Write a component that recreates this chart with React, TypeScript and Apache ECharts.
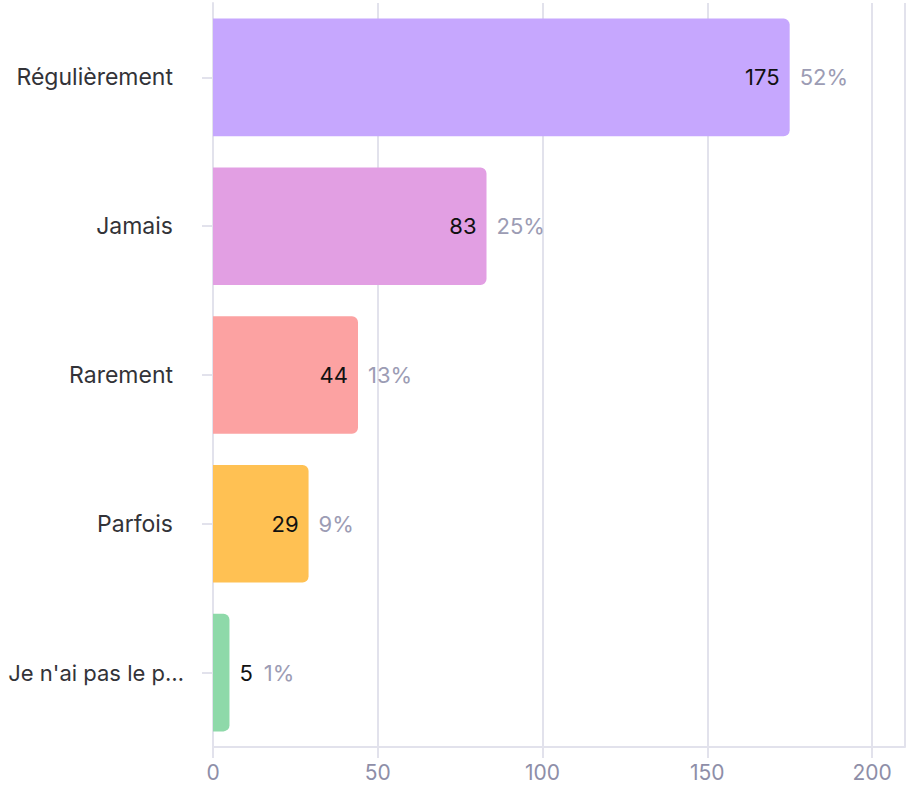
import React, { useEffect, useRef } from "react";
import * as echarts from "echarts";

const categories = ["Régulièrement", "Jamais", "Rarement", "Parfois", "Je n'ai pas le p…"];
const values = [175, 83, 44, 29, 5];
const colors = ["#C6A7FE", "#E29FE3", "#FCA2A2", "#FFC153", "#8ED9A9"];
const xTicks = [0, 50, 100, 150, 200];

const FONT = "Inter";
const FS = 22;

export default function App() {
  const ref = useRef<HTMLDivElement>(null);
  useEffect(() => {
    if (!ref.current) return;
    const chart = echarts.init(ref.current, undefined, { renderer: "svg" });
    const total = values.reduce((a, b) => a + b, 0);
    const pct = values.map((v) => Math.round((v / total) * 100) + "%");
    const smallLimit = 10;
    const truncated = categories[categories.length - 1];
    chart.setOption({
      animation: false,
      grid: { left: 213, right: 3, top: 3, bottom: 41, containLabel: false, outerBoundsMode: "none" },
      xAxis: {
        type: "value",
        min: 0,
        max: 210,
        interval: 50,
        axisLine: { show: true, lineStyle: { color: "#E2E2EC", width: 2 } },
        axisTick: { show: true, length: 11, lineStyle: { color: "#E2E2EC", width: 2 } },
        splitLine: { show: true, lineStyle: { color: "#E2E2EC", width: 2 } },
        axisLabel: {
          color: "#8E8EA8",
          fontSize: 21,
          fontFamily: FONT,
          margin: 15,
          showMaxLabel: false,
          formatter: (v: number) => (xTicks.includes(v) ? String(v) : ""),
        },
      },
      yAxis: {
        type: "category",
        data: categories,
        inverse: true,
        axisLine: { show: true, lineStyle: { color: "#E2E2EC", width: 2 } },
        axisTick: { show: true, length: 11, alignWithLabel: true, lineStyle: { color: "#E2E2EC", width: 2 } },
        axisLabel: {
          color: "#333338",
          fontSize: 23,
          fontFamily: FONT,
          margin: 29,
          formatter: (v: string) => (v === truncated ? `{t|${v}}` : `{r|${v}}`),
          rich: {
            t: { color: "#333338", fontSize: 22, fontFamily: FONT },
            r: { color: "#333338", fontSize: 23, fontFamily: FONT, padding: [0, 11, 0, 0] },
          },
        },
      },
      series: [
        {
          type: "bar",
          barCategoryGap: "21%",
          data: values.map((v, i) => ({
            value: v,
            itemStyle: { color: colors[i], borderRadius: [0, 6, 6, 0] },
            label: { show: v >= smallLimit },
          })),
          label: {
            position: "insideRight",
            distance: 10,
            color: "#111111",
            fontSize: FS,
            fontFamily: FONT,
          },
          silent: true,
          z: 2,
        },
        {
          type: "bar",
          barGap: "-100%",
          barCategoryGap: "21%",
          data: values.map((v, i) => ({
            value: v,
            label: {
              formatter: v >= smallLimit ? `{p|${pct[i]}}` : `{v|${v}}{p|${pct[i]}}`,
            },
          })),
          itemStyle: { color: "rgba(0,0,0,0)" },
          label: {
            show: true,
            position: "right",
            distance: 10,
            rich: {
              p: { color: "#9C9CB4", fontSize: FS, fontFamily: FONT },
              v: { color: "#111111", fontSize: FS, fontFamily: FONT, padding: [0, 11, 0, 0] },
            },
          },
          silent: true,
          z: 3,
        },
      ],
    });
    return () => chart.dispose();
  }, []);
  return <div ref={ref} style={{ position: "absolute", left: 0, top: 0, width: 908, height: 788 }} />;
}
